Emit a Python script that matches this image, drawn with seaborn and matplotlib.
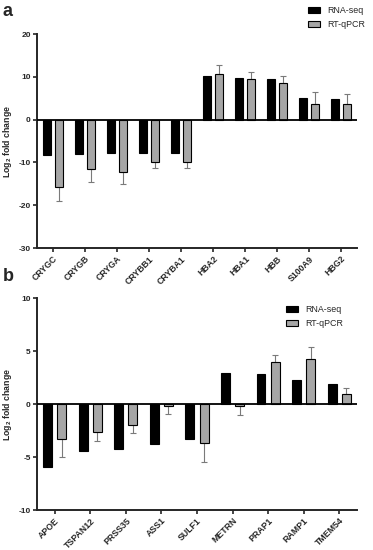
import numpy as np
import pandas as pd
import matplotlib
matplotlib.use("Agg")
import matplotlib.pyplot as plt
import seaborn as sns
from matplotlib.patches import Patch

# ---- data panel a ----
genes_a = ["CRYGC", "CRYGB", "CRYGA", "CRYBB1", "CRYBA1", "HBA2", "HBA1", "HBB", "S100A9", "HBG2"]
rnaseq_a = [-8.2, -8.0, -7.8, -7.7, -7.7, 10.1, 9.8, 9.4, 5.1, 4.8]
qpcr_a = [-15.8, -11.5, -12.3, -9.8, -9.8, 10.7, 9.4, 8.6, 3.6, 3.6]
qpcr_err_a = [3.3, 3.0, 2.7, 1.5, 1.5, 2.0, 1.8, 1.5, 2.9, 2.4]
yticks_a = [-30, -20, -10, 0, 10, 20]

# ---- data panel b ----
genes_b = ["APOE", "TSPAN12", "PRSS35", "ASS1", "SULF1", "METRN", "PRAP1", "RAMP1", "TMEM54"]
rnaseq_b = [-5.9, -4.4, -4.2, -3.8, -3.3, 2.9, 2.85, 2.3, 1.9]
qpcr_b = [-3.3, -2.6, -2.0, -0.2, -3.7, -0.15, 3.95, 4.3, 1.0]
qpcr_err_b = [1.7, 0.9, 0.7, 0.75, 1.8, 0.85, 0.7, 1.05, 0.5]
yticks_b = [-10, -5, 0, 5, 10]

methods = ["RNA-seq", "RT-qPCR"]
colors = ["#000000", "#a6a6a6"]

sns.set_style("ticks")
plt.rcParams['font.family'] = ['Liberation Sans', 'DejaVu Sans']
plt.rcParams['font.weight'] = 'bold'
plt.rcParams['mathtext.fontset'] = 'custom'
plt.rcParams['mathtext.rm'] = 'Liberation Sans:bold'
plt.rcParams['mathtext.it'] = 'Liberation Sans:bold'
plt.rcParams['mathtext.bf'] = 'Liberation Sans:bold'

fig = plt.figure(figsize=(3.73, 5.5), dpi=100)
ax_a = fig.add_axes([0.099, 0.549, 0.858, 0.389])
ax_b = fig.add_axes([0.099, 0.0727, 0.858, 0.385])


def panel(ax, genes, rna, q, qerr, yticks):
    df = pd.DataFrame({
        "gene": genes * 2,
        "value": rna + q,
        "method": [methods[0]] * len(genes) + [methods[1]] * len(genes),
    })
    sns.barplot(data=df, x="gene", y="value", hue="method", hue_order=methods,
                palette=colors, width=0.8, gap=0.375, edgecolor="black",
                linewidth=0.8, errorbar=None, ax=ax, legend=False, zorder=2)
    cont = ax.containers[1]
    xs = [p.get_x() + p.get_width() / 2 for p in cont]
    vals = np.array(q)
    err = np.array(qerr)
    lower = np.where(vals < 0, err, 0)
    upper = np.where(vals >= 0, err, 0)
    ax.errorbar(xs, vals, yerr=[lower, upper], fmt='none', ecolor='#7a7a7a',
                elinewidth=0.8, capsize=2, capthick=0.8, zorder=1)
    ax.axhline(0, color='black', lw=1.3, zorder=3)
    ax.set_xlim(-0.5, len(genes) - 0.5)
    ax.set_ylim(yticks[0], yticks[-1])
    ax.set_yticks(yticks)
    ax.set_yticklabels([str(t) for t in yticks], fontsize=6, fontweight='bold')
    ax.set_xticks(range(len(genes)))
    ax.set_xticklabels(genes, rotation=45, ha='right', rotation_mode='anchor',
                       fontsize=6.3, fontweight='bold')
    ax.set_xlabel("")
    ax.set_ylabel("Log$_{2}$ fold change", fontsize=6.3, fontweight='bold', labelpad=3)
    for s in ["top", "right"]:
        ax.spines[s].set_visible(False)
    for s in ["left", "bottom"]:
        ax.spines[s].set_linewidth(1.4)
    ax.tick_params(axis='both', length=3, width=1.2, pad=1.5)


panel(ax_a, genes_a, rnaseq_a, qpcr_a, qpcr_err_a, yticks_a)
panel(ax_b, genes_b, rnaseq_b, qpcr_b, qpcr_err_b, yticks_b)

handles = [Patch(facecolor=c, edgecolor='black', linewidth=0.8, label=m) for c, m in zip(colors, methods)]
legend_kw = dict(frameon=False, handlelength=1.35, handleheight=0.6, labelspacing=0.55,
                 handletextpad=0.8, borderpad=0.3, prop={'size': 6.4, 'weight': 'normal'})
fig.legend(handles=handles, loc='upper right', bbox_to_anchor=(0.998, 1.002), **legend_kw)
ax_b.legend(handles=handles, loc='upper right', bbox_to_anchor=(0.98, 1.0), **legend_kw)

fig.text(0.008, 0.995, "a", fontsize=13, fontweight='bold', va='top', ha='left')
fig.text(0.008, 0.512, "b", fontsize=13, fontweight='bold', va='top', ha='left')

fig.savefig("out.png", dpi=100)
